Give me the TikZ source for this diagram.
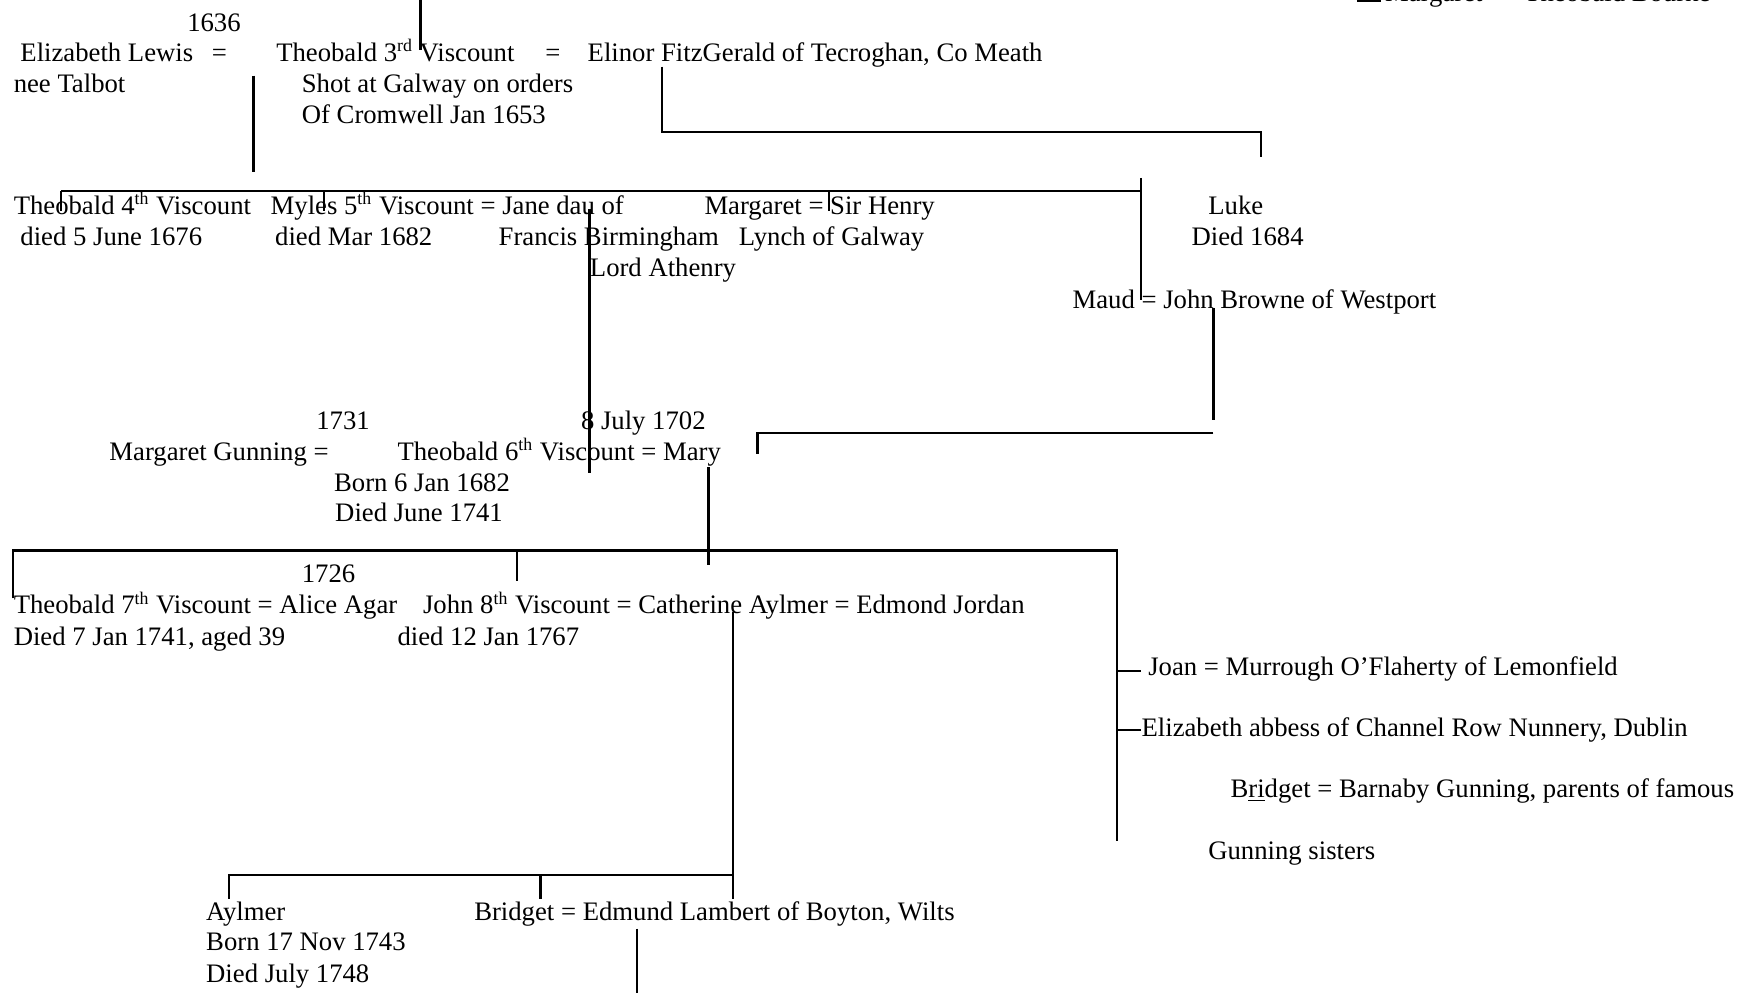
\documentclass[tikz,border=0pt]{standalone}
\usepackage{fontspec}
\setmainfont{Liberation Serif}
\begin{document}
\begin{tikzpicture}[x=0.5pt,y=-0.5pt,
        person/.style = {anchor=base west,
            inner sep=0pt,
            font=\fontsize{12}{14}\selectfont
        },
        line/.style = {black,
            line width=1pt
        }]
    \useasboundingbox (0,0) rectangle (1568,893);
    \clip (0,0) rectangle (1568,893);

    % Cut off at the top
    \node [person] (bourke) at (1245,1) {Margaret \ = \ Theobald Bourke};
    \coordinate (bourkeA) at (1220,1);
    \coordinate (bourkeB) at (1242,1);

    % Third Viscount
    \node [person] (y1636) at (168,28) {1636};
    \node [person] (lewis) at (18,55) {Elizabeth Lewis};
    \node [person] (eqA) at (190,55) {=};
    \node [person] (theo3) at (248,55) {Theobald 3\textsuperscript{rd} Viscount};
    \node [person] (eqB) at (490,55) {=};
    \node [person] (elinor) at (528,55) {Elinor FitzGerald of Tecroghan, Co Meath};
    \node [person] (talbot) at (12,83) {nee Talbot};
    \node [person] (shot) at (271,83) {Shot at Galway on orders};
    \node [person] (cromwell) at (271,111) {Of Cromwell Jan 1653};

    % Children of the third Viscount
    \node [person] (theo4) at (12,193) {Theobald 4\textsuperscript{th} Viscount};
    \node [person] (myles) at (243,193) {Myles 5\textsuperscript{th} Viscount = Jane dau of};
    \node [person] (margaret) at (633,193) {Margaret = Sir Henry};
    \node [person] (luke) at (1086,193) {Luke};
    \node [person] (died1676) at (18,221) {died 5 June 1676};
    \node [person] (died1682) at (247,221) {died Mar 1682};
    \node [person] (francis) at (448,221) {Francis Birmingham};
    \node [person] (lynch) at (664,221) {Lynch of Galway};
    \node [person] (died1684) at (1071,221) {Died 1684};
    \node [person] (athenry) at (530,249) {Lord Athenry};
    \node [person] (maud) at (964,277) {Maud = John Browne of Westport};

    % Sixth Viscount
    \node [person] (y1731) at (284,386) {1731};
    \node [person] (y1702) at (522,386) {8 July 1702};
    \node [person] (gunning) at (98,414) {Margaret Gunning =};
    \node [person] (theo6) at (357,414) {Theobald 6\textsuperscript{th} Viscount = Mary};
    \node [person] (born1682) at (300,442) {Born 6 Jan 1682};
    \node [person] (died1741) at (301,469) {Died June 1741};

    % Children of the sixth Viscount
    \node [person] (y1726) at (271,524) {1726};
    \node [person] (theo7) at (12,552) {Theobald 7\textsuperscript{th} Viscount = Alice Agar};
    \node [person] (john8) at (380,552) {John 8\textsuperscript{th} Viscount = Catherine Aylmer = Edmond Jordan};
    \node [person] (died1741b) at (12,580) {Died 7 Jan 1741, aged 39};
    \node [person] (died1767) at (357,580) {died 12 Jan 1767};
    \node [person] (joan) at (1032,607) {Joan = Murrough O’Flaherty of Lemonfield};
    \node [person] (abbess) at (1026,662) {Elizabeth abbess of Channel Row Nunnery, Dublin};
    \node [person] (bridgetG) at (1106,717) {B\underline{ri}dget = Barnaby Gunning, parents of famous};
    \node [person] (sisters) at (1086,773) {Gunning sisters};

    % Children of the eighth Viscount
    \node [person] (aylmer) at (185,828) {Aylmer};
    \node [person] (born1743) at (185,855) {Born 17 Nov 1743};
    \node [person] (died1748) at (185,883) {Died July 1748};
    \node [person] (bridgetL) at (426,828) {Bridget = Edmund Lambert of Boyton, Wilts};

    % Line points
    \coordinate (topA) at (378,0);
    \coordinate (topB) at (378,45);
    \coordinate (lewisA) at (228,68);
    \coordinate (lewisB) at (228,155);
    \coordinate (elinorA) at (595,60);
    \coordinate (elinorB) at (595,119);
    \coordinate (lukeA) at (1134,119);
    \coordinate (lukeB) at (1134,141);
    \coordinate (barA) at (55,172);
    \coordinate (barB) at (1026,172);
    \coordinate (maudA) at (1026,160);
    \coordinate (maudB) at (1026,270);
    \coordinate (mylesA) at (291,172);
    \coordinate (mylesB) at (291,190);
    \coordinate (henryA) at (745,172);
    \coordinate (henryB) at (745,190);
    \coordinate (theo4B) at (55,190);
    \coordinate (janeA) at (530,188);
    \coordinate (janeB) at (530,425);
    \coordinate (browneA) at (1091,277);
    \coordinate (browneB) at (1091,378);
    \coordinate (maryA) at (1091,389);
    \coordinate (maryB) at (681,389);
    \coordinate (maryC) at (681,408);
    \coordinate (sixA) at (637,420);
    \coordinate (sixB) at (637,508);
    \coordinate (kidsA) at (12,495);
    \coordinate (kidsB) at (1004,495);
    \coordinate (theo7B) at (12,538);
    \coordinate (john8A) at (465,495);
    \coordinate (john8B) at (465,522);
    \coordinate (girlsB) at (1004,756);
    \coordinate (joanA) at (1004,603);
    \coordinate (joanB) at (1026,603);
    \coordinate (abbessA) at (1004,656);
    \coordinate (abbessB) at (1026,656);
    \coordinate (eightA) at (659,550);
    \coordinate (eightB) at (659,808);
    \coordinate (grandA) at (206,787);
    \coordinate (grandB) at (659,787);
    \coordinate (aylmerB) at (206,808);
    \coordinate (bridgetA) at (486,787);
    \coordinate (bridgetB) at (486,808);
    \coordinate (lambertA) at (573,835);
    \coordinate (lambertB) at (573,893);

    % Lines
    \draw [line] (bourkeA) -- (bourkeB);
    \draw [line] (topA) -- (topB);
    \draw [line] (lewisA) -- (lewisB);
    \draw [line] (elinorA) -- (elinorB) -- (lukeA) -- (lukeB);
    \draw [line] (barA) -- (barB);
    \draw [line] (barA) -- (theo4B);
    \draw [line] (mylesA) -- (mylesB);
    \draw [line] (henryA) -- (henryB);
    \draw [line] (maudA) -- (maudB);
    \draw [line] (janeA) -- (janeB);
    \draw [line] (browneA) -- (browneB);
    \draw [line] (maryA) -- (maryB) -- (maryC);
    \draw [line] (sixA) -- (sixB);
    \draw [line] (theo7B) -- (kidsA) -- (kidsB) -- (girlsB);
    \draw [line] (john8A) -- (john8B);
    \draw [line] (joanA) -- (joanB);
    \draw [line] (abbessA) -- (abbessB);
    \draw [line] (eightA) -- (eightB);
    \draw [line] (aylmerB) -- (grandA) -- (grandB);
    \draw [line] (bridgetA) -- (bridgetB);
    \draw [line] (lambertA) -- (lambertB);

\end{tikzpicture}
\end{document}
